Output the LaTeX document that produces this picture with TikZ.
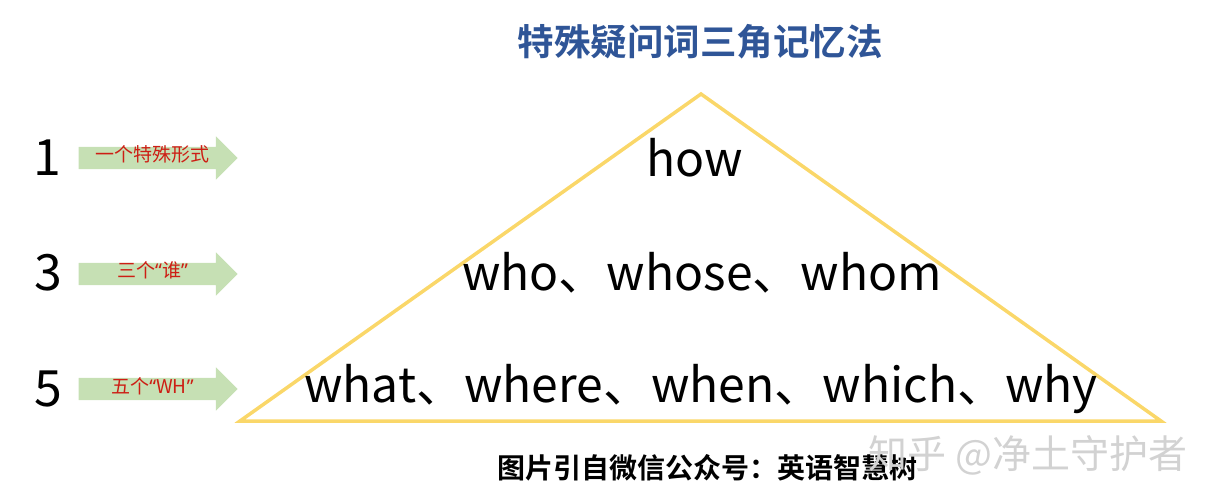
\documentclass[tikz,border=0pt]{standalone}
\usepackage{fontspec}
\setmainfont{Noto Sans CJK SC}[BoldFont = * Bold]
\newfontfamily\quotefont{Noto Sans}
\usetikzlibrary{shapes.arrows,positioning}

\definecolor{titleblue}{RGB}{47,85,151}
\definecolor{gold1}{RGB}{250,215,105}
\definecolor{green1}{RGB}{198,224,180}
\definecolor{red1}{RGB}{205,30,20}
\definecolor{mark1}{RGB}{210,210,210}

\newcommand{\quoted}[1]{{\quotefont “}#1{\quotefont ”}}

\tikzstyle{tri} = [draw=gold1, line width=3.5pt, line join=miter]
\tikzstyle{word} = [font={\fontsize{48pt}{58pt}\selectfont}, inner sep=0pt]
\tikzstyle{num} = [font={\fontsize{50pt}{60pt}\selectfont}, inner sep=0pt]
\tikzstyle{tag} = [single arrow, fill=green1, text=red1, font={\fontsize{19pt}{22pt}\selectfont},
    minimum height=159pt, single arrow head extend=10.5pt, inner xsep=2pt, inner ysep=2pt,
    text height=13pt, text depth=5pt, align=center]

\begin{document}
\begin{tikzpicture}[x=1pt, y=-1pt]
    \useasboundingbox (0,0) rectangle (1217,502);

    % title
    \node[font={\fontsize{36.5pt}{44pt}\selectfont\bfseries}, text=titleblue] (title) at (700,42) {特殊疑问词三角记忆法};

    % triangle
    \coordinate (apex) at (701,94);
    \coordinate (bl) at (240,421);
    \coordinate (br) at (1161,421);
    \draw[tri] (apex) -- (bl) -- (br) -- cycle;

    % words
    \node[word] (one) at (695,158) {how};
    \node[word] (three) at (702,273) {who、whose、whom};
    \node[word] (five) at (701,389) {what、where、when、which、why};

    % numbers
    \node[num] (n1) at (47,158) {1};
    \node[num] (n3) at (48,273) {3};
    \node[num] (n5) at (48,389) {5};

    % arrows
    \node[tag] (a1) at (152.5,158) {一个特殊形式};
    \node[tag] (a3) at (152.5,274) {三个\quoted{谁}};
    \node[tag] (a5) at (152.5,389) {五个\quoted{WH}};

    % source
    \node[font={\fontsize{28pt}{34pt}\selectfont\bfseries}] (src) at (707,468) {图片引自微信公众号：英语智慧树};
    \node[font={\fontsize{39pt}{46pt}\selectfont}, text=mark1] (wm) at (1028,455) {知乎 @净土守护者};
\end{tikzpicture}
\end{document}
